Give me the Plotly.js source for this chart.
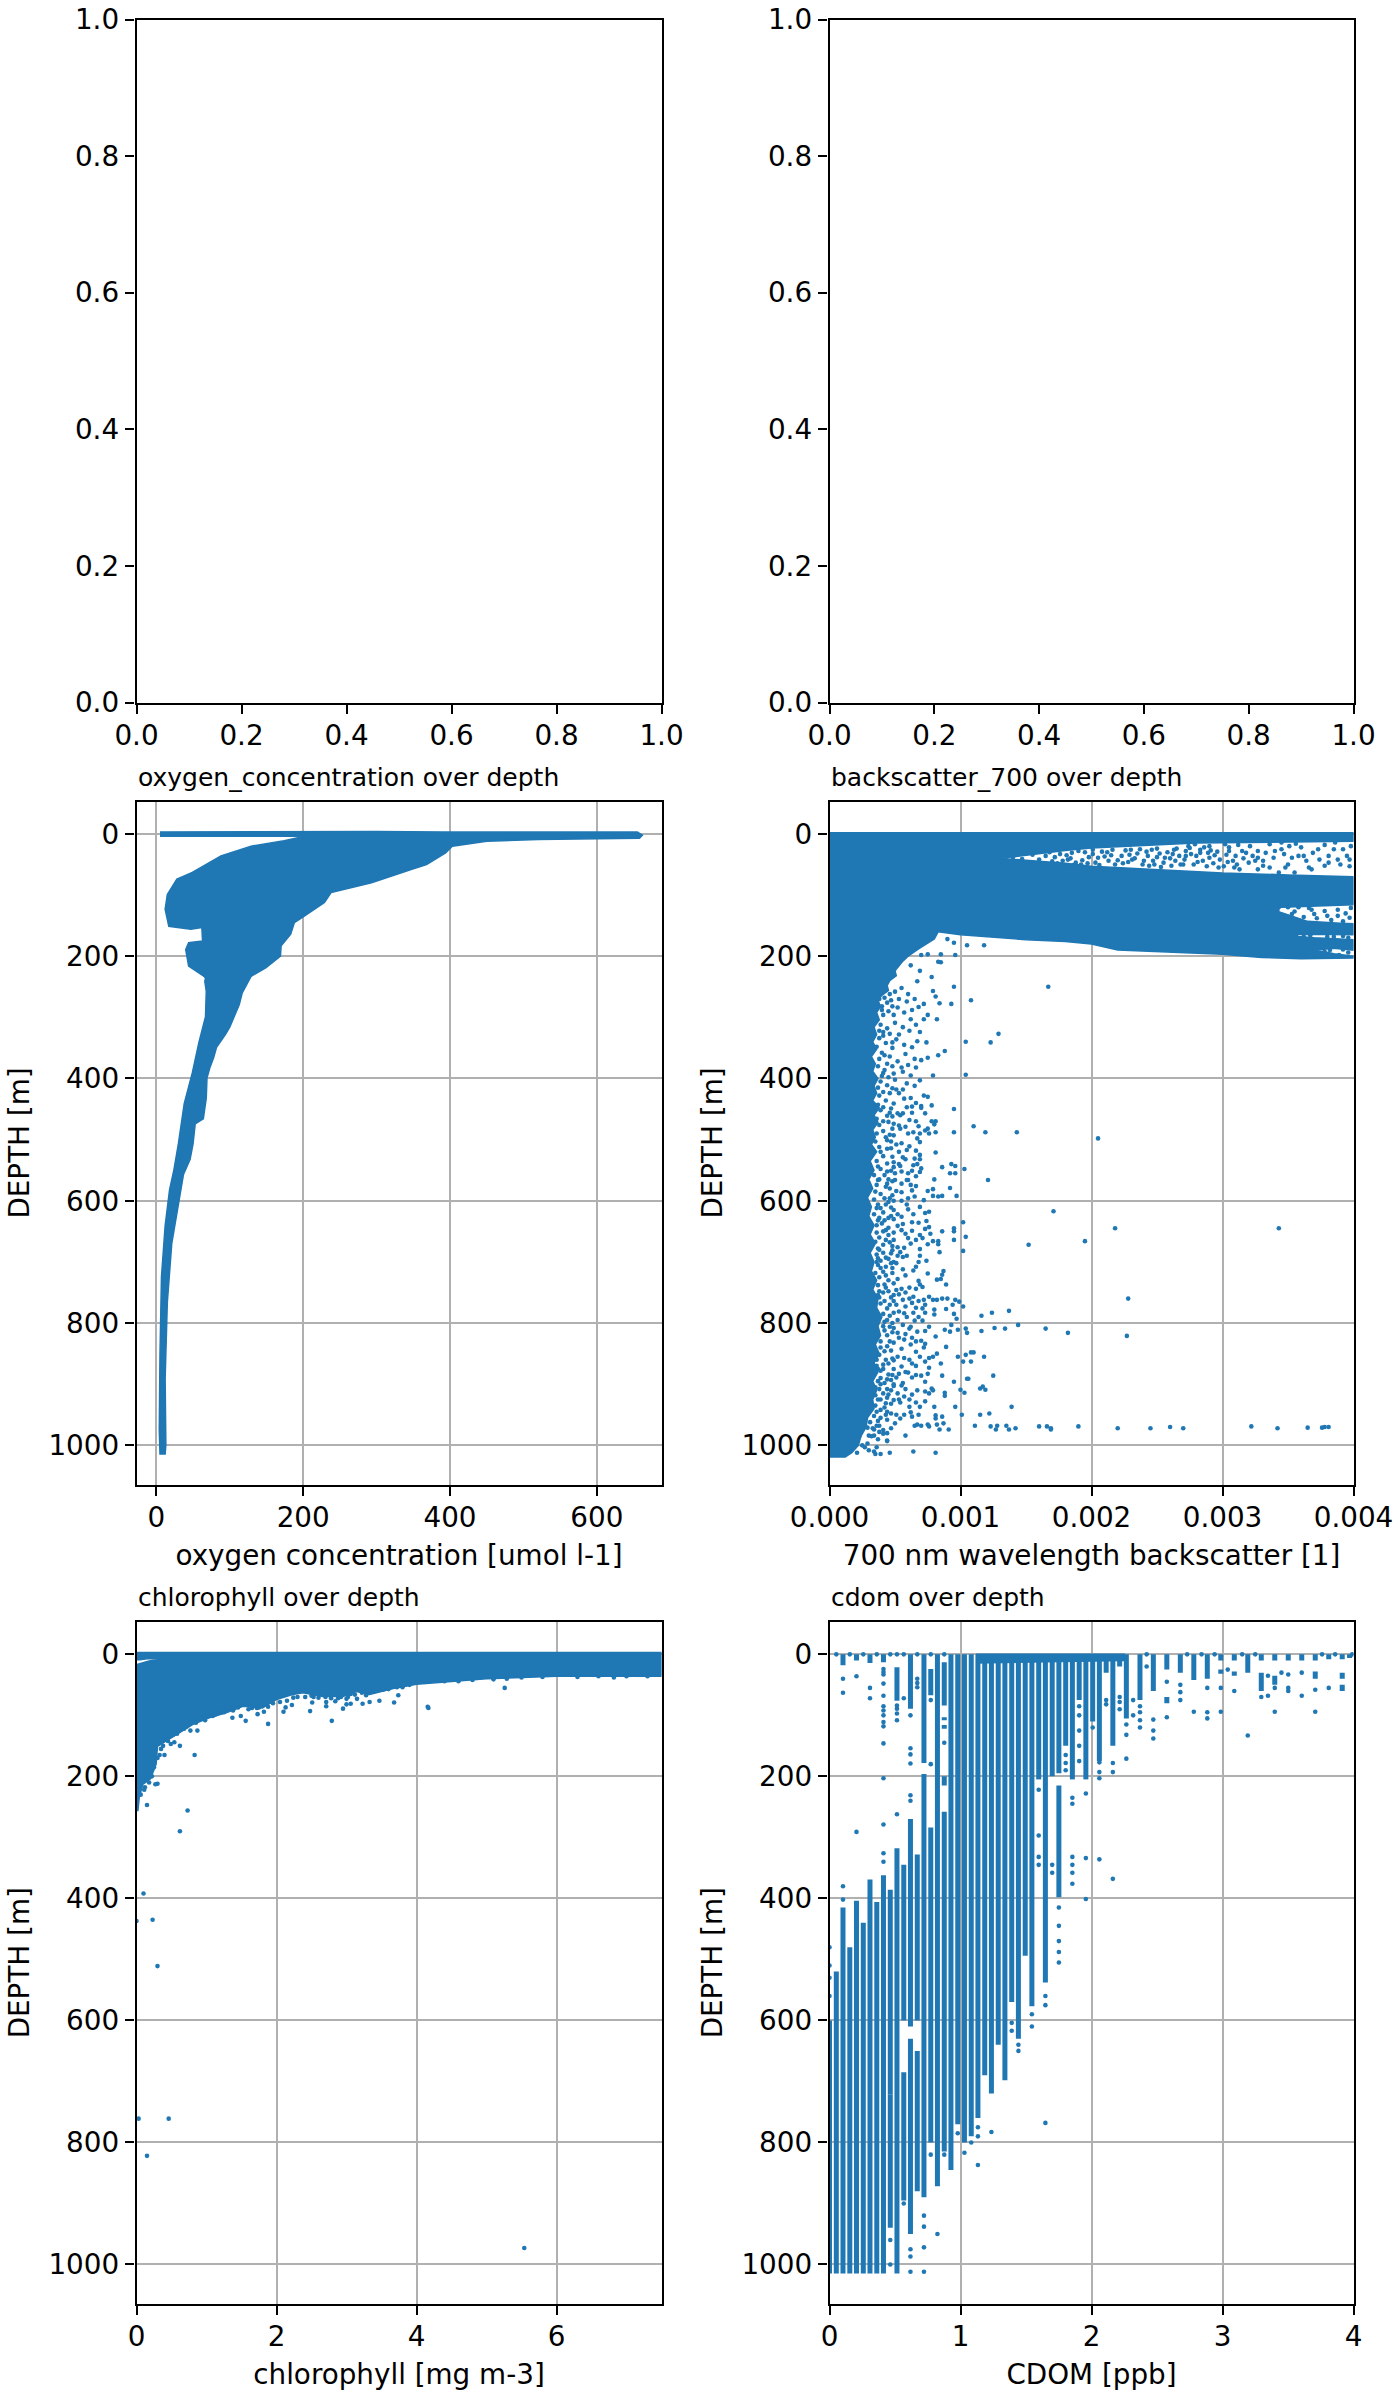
<!DOCTYPE html>
<html>
<head>
<meta charset="utf-8">
<script src="https://cdn.plot.ly/plotly-3.0.1.min.js"></script>
<style>html,body{margin:0;padding:0;background:#fff}</style>
</head>
<body>
<div id="chart" style="width:1400px;height:2400px"></div>
<script>
// Where the points merge into a solid mass only the outline can be read, so
// those parts are outlines (x, depth); anything that can be told apart is a dot.
const BLUE = '#1f77b4';

const unitTicks = [0, 0.2, 0.4, 0.6, 0.8, 1];
const depthTicks = [0, 200, 400, 600, 800, 1000];
const depthRange = [1064, -53];

const panelTitles = ['oxygen_concentration over depth', 'backscatter_700 over depth', 'chlorophyll over depth', 'cdom over depth'];
const xTitles = ['oxygen concentration [umol l-1]', '700 nm wavelength backscatter [1]', 'chlorophyll [mg m-3]', 'CDOM [ppb]'];

// oxygen: outline of the whole mass, clockwise from the surface strip
const oxygenOutline = [
  [5, -3], [300, -4], [390, -3], [655, -3], [662, 2], [658, 7], [600, 8], [520, 9], [450, 12], [403, 20],
  [394, 31], [368, 50], [348, 58], [293, 80], [238, 96], [229, 112], [202, 134], [188, 145], [183, 164],
  [170, 183], [169, 200], [149, 219], [129, 233], [117, 260], [113, 279], [100, 316], [94, 328], [82, 349],
  [78, 366], [73, 382], [69, 399], [68, 432], [64, 466], [53, 474], [50, 507], [46, 532], [37, 557], [32, 591],
  [27, 624], [21, 670], [15, 766], [12, 891], [13, 999], [12, 1014], [5, 1014],
  [4, 974], [5, 849], [7, 724], [12, 641], [18, 582], [24, 549], [30, 507], [38, 441], [49, 391], [58, 341],
  [67, 299], [68, 257], [66, 241],
  [67, 236], [65, 233], [44, 216], [40, 189], [44, 178], [63, 175], [62, 153], [47, 156], [17, 151], [12, 123],
  [15, 99], [28, 74], [49, 63], [88, 36], [129, 20], [174, 11], [202, 4], [5, 4]
];

// backscatter: solid mass, notches follow the white patches on the right
const backscatterOutline = [
  [0, -2], [0.004, -2], [0.004, 12], [0.0035, 13], [0.003, 14], [0.0028, 15], [0.0026, 17], [0.0024, 19],
  [0.0022, 21], [0.002, 23], [0.0018, 27], [0.0016, 32], [0.00145, 36], [0.0013, 40], [0.0015, 43],
  [0.0018, 48], [0.002, 53], [0.0023, 56], [0.0026, 60], [0.003, 64], [0.0035, 67], [0.004, 70],
  [0.004, 116], [0.0037, 118], [0.00345, 120], [0.0034, 125], [0.0035, 132], [0.00365, 143], [0.0039, 146],
  [0.004, 147], [0.004, 165], [0.0038, 165], [0.0036, 164], [0.00352, 167], [0.0037, 170], [0.0039, 172],
  [0.004, 173], [0.004, 190], [0.00385, 187], [0.00372, 190], [0.00385, 196], [0.004, 200], [0.004, 203],
  [0.0036, 204], [0.0033, 202], [0.003, 197], [0.0028, 195], [0.0025, 193], [0.0022, 190], [0.002, 180],
  [0.0018, 176], [0.0015, 173], [0.0012, 168], [0.001, 165], [0.00083, 160], [0.0008, 172], [0.00068, 188],
  [0.0006, 200], [0.00056, 208], [0.00053, 216], [0.0005, 224], [0.00051, 232], [0.00046, 240], [0.00044, 248],
  [0.00045, 256], [0.0004, 264], [0.00037, 272], [0.00039, 282], [0.00036, 292], [0.00038, 304], [0.00034, 316],
  [0.00036, 328], [0.00033, 340], [0.00036, 352], [0.00032, 364], [0.00035, 376], [0.00033, 388], [0.00037, 400],
  [0.00034, 412], [0.00036, 424], [0.00033, 436], [0.00038, 448], [0.00034, 460], [0.00037, 472], [0.00033, 484],
  [0.00035, 496], [0.00032, 508], [0.00036, 520], [0.00031, 535], [0.00034, 550], [0.0003, 565], [0.00033, 580],
  [0.00029, 595], [0.00032, 610], [0.0003, 625], [0.00034, 640], [0.00031, 655], [0.00035, 670], [0.00031, 685],
  [0.00034, 700], [0.00032, 715], [0.00036, 730], [0.00033, 745], [0.00037, 760], [0.00036, 775], [0.0004, 790],
  [0.00037, 805], [0.00039, 820], [0.00035, 835], [0.00038, 850], [0.00034, 865], [0.00037, 880], [0.00033, 895],
  [0.00036, 910], [0.00033, 925], [0.00034, 940], [0.00029, 955], [0.00028, 970], [0.00024, 985], [0.00022, 1000],
  [0.00017, 1012], [0.00012, 1019], [0, 1019]
];

const backscatterDots = [
  [0.00095, 178], [0.00105, 182], [0.00118, 182], [0.0009, 172], [0.00075, 197], [0.00085, 197], [0.00096, 198],
  [0.0007, 198], [0.00083, 209], [0.00085, 210], [0.00069, 224], [0.00078, 234], [0.00067, 241], [0.00062, 215],
  [0.00167, 250], [0.00095, 250], [0.00079, 257], [0.00081, 266], [0.00108, 272], [0.00093, 278], [0.00084, 277],
  [0.00072, 278], [0.00065, 270], [0.00059, 274], [0.00053, 270], [0.00048, 282], [0.0004, 282], [0.00036, 281],
  [0.00072, 303], [0.00082, 303], [0.00062, 303], [0.00069, 324], [0.00053, 328], [0.00048, 341], [0.00041, 324],
  [0.00074, 341], [0.00063, 349], [0.00129, 327], [0.00123, 341], [0.00104, 340], [0.00088, 355], [0.00083, 362],
  [0.00075, 366], [0.0007, 370], [0.0006, 378], [0.00055, 382], [0.00104, 394], [0.00079, 395], [0.00069, 403],
  [0.00062, 395], [0.00041, 391], [0.00048, 416], [0.00053, 424], [0.00072, 428], [0.00075, 430], [0.00062, 432],
  [0.0007, 445], [0.00052, 457], [0.00081, 470], [0.00075, 482], [0.00048, 482],
  [0.00078, 444], [0.00095, 450], [0.0011, 478], [0.00095, 488], [0.00119, 488], [0.00143, 488], [0.00205, 498],
  [0.00081, 488], [0.00081, 521], [0.00086, 545], [0.00093, 540], [0.00096, 543], [0.00103, 548], [0.00092, 555],
  [0.00096, 555], [0.00121, 566], [0.0008, 565], [0.00092, 579], [0.00079, 581], [0.00075, 584], [0.00097, 592],
  [0.00086, 592], [0.00083, 593], [0.00079, 592], [0.00171, 617], [0.00102, 635], [0.00095, 645], [0.00095, 650],
  [0.00218, 645], [0.00086, 650], [0.00104, 659], [0.00095, 664], [0.00083, 666], [0.00083, 671], [0.00195, 666],
  [0.00152, 672], [0.00102, 682], [0.00084, 684], [0.00087, 715], [0.0007, 448], [0.00073, 457], [0.00078, 470],
  [0.0008, 475], [0.00073, 485], [0.00076, 490], [0.00069, 490], [0.00069, 504], [0.00064, 488], [0.0006, 490],
  [0.00066, 470], [0.00061, 468], [0.00068, 478], [0.00056, 457], [0.00063, 446], [0.00054, 460], [0.00049, 474],
  [0.00053, 477], [0.00045, 471], [0.00049, 493], [0.00044, 501], [0.00055, 506], [0.00059, 517], [0.00066, 518],
  [0.00053, 520], [0.00069, 525], [0.00069, 532], [0.00065, 531], [0.00058, 532], [0.00067, 540], [0.00064, 542],
  [0.00053, 540], [0.00049, 545], [0.00044, 552], [0.0007, 547], [0.00069, 553], [0.0006, 555], [0.00055, 552],
  [0.0005, 555], [0.0006, 566], [0.00045, 565], [0.00055, 572], [0.0005, 566], [0.00066, 576], [0.00063, 583],
  [0.00059, 566], [0.00051, 584], [0.00043, 577], [0.00037, 566], [0.00065, 593], [0.0006, 596], [0.00055, 600],
  [0.00049, 600], [0.00045, 602], [0.00072, 599], [0.00069, 610], [0.00076, 618], [0.00073, 620], [0.0006, 614],
  [0.00049, 615], [0.00055, 626], [0.00045, 628], [0.00036, 612], [0.00074, 633], [0.00068, 636], [0.00063, 635],
  [0.00056, 638], [0.00049, 630], [0.00037, 632], [0.00076, 643], [0.00073, 646], [0.00055, 648], [0.00049, 652],
  [0.00043, 648], [0.00071, 661], [0.00077, 654], [0.00069, 656], [0.00066, 664], [0.0006, 661], [0.00049, 664],
  [0.00079, 666], [0.00075, 671], [0.00069, 679], [0.00057, 677], [0.00048, 681], [0.00037, 678], [0.00069, 690],
  [0.00056, 692], [0.00052, 690], [0.00074, 698], [0.00068, 700], [0.00051, 702], [0.00037, 694], [0.00066, 708],
  [0.00056, 712], [0.00048, 710], [0.00039, 710],
  [0.00089, 737], [0.00086, 721], [0.00085, 728], [0.00082, 729], [0.00075, 719], [0.00068, 731], [0.00071, 741],
  [0.00069, 737], [0.00061, 742], [0.00055, 744], [0.00042, 737], [0.00037, 754], [0.00053, 753], [0.0009, 760],
  [0.00086, 760], [0.00082, 762], [0.00079, 762], [0.00076, 757], [0.00072, 762], [0.00064, 757], [0.00061, 760],
  [0.00056, 762], [0.00096, 762], [0.00099, 765], [0.00102, 773], [0.00094, 770], [0.00089, 777], [0.0008, 778],
  [0.00073, 770], [0.00068, 764], [0.00063, 767], [0.00051, 770], [0.00137, 780], [0.00124, 783], [0.00116, 788],
  [0.00095, 785], [0.00097, 793], [0.0008, 786], [0.00073, 783], [0.00064, 783], [0.00059, 790], [0.00049, 783],
  [0.00144, 803], [0.00093, 803], [0.00071, 796], [0.00065, 796], [0.00056, 803], [0.00165, 809], [0.00182, 816],
  [0.00134, 809], [0.00126, 808], [0.00116, 813], [0.00104, 809], [0.00105, 816], [0.00098, 811], [0.00092, 814],
  [0.00088, 811], [0.00076, 806], [0.00073, 813], [0.00067, 814], [0.00061, 809], [0.00049, 808], [0.00081, 822],
  [0.0007, 829], [0.00073, 834], [0.00089, 839], [0.00063, 824], [0.00057, 827], [0.00053, 824], [0.00062, 835],
  [0.0011, 848], [0.00108, 848], [0.00104, 852], [0.00098, 855], [0.00118, 855], [0.00108, 863], [0.00102, 863],
  [0.00082, 850], [0.00079, 855], [0.00076, 857], [0.00073, 863], [0.00085, 866], [0.00076, 873], [0.00066, 847],
  [0.00066, 870], [0.00063, 866], [0.00057, 857], [0.00049, 861], [0.00055, 871], [0.00041, 875], [0.00037, 875],
  [0.00125, 886], [0.00086, 886], [0.00105, 891], [0.00106, 891], [0.00095, 896], [0.00075, 883], [0.00073, 896],
  [0.0007, 886], [0.0006, 881], [0.00063, 889], [0.00053, 883], [0.00051, 889], [0.00115, 907], [0.00117, 904],
  [0.00119, 909], [0.001, 909], [0.00103, 914], [0.00088, 914], [0.00088, 919], [0.00078, 907], [0.00079, 910],
  [0.00076, 915], [0.00073, 912], [0.00067, 910], [0.00063, 917], [0.00057, 920], [0.00055, 902], [0.00049, 903],
  [0.00053, 925], [0.00045, 917], [0.00043, 931], [0.00139, 937], [0.00096, 937], [0.0008, 937], [0.00069, 937],
  [0.00061, 937], [0.00062, 946], [0.00122, 948], [0.00115, 950], [0.00101, 950], [0.00086, 953], [0.00081, 951],
  [0.00081, 956], [0.00057, 950], [0.00051, 950], [0.00043, 950], [0.0005, 964], [0.00038, 968], [0.00029, 971],
  [0.00111, 968], [0.00123, 969], [0.00128, 968], [0.00127, 974], [0.00135, 968], [0.00137, 974], [0.00142, 972],
  [0.0016, 969], [0.00166, 969], [0.00169, 972], [0.00169, 974], [0.0019, 969], [0.0022, 972], [0.00091, 974],
  [0.00087, 964], [0.00082, 966], [0.00084, 974], [0.00075, 966], [0.00076, 969], [0.0007, 968], [0.00067, 966],
  [0.00065, 968], [0.00058, 984], [0.00044, 992], [0.00041, 981], [0.00034, 984], [0.0003, 984], [0.00034, 974],
  [0.00023, 984], [0.00081, 1012], [0.00064, 1010], [0.00046, 1012], [0.00039, 1014], [0.00035, 1014],
  [0.00036, 1003], [0.00029, 997], [0.00027, 1003], [0.00021, 1012], [0.00044, 993],
  [0.00322, 969], [0.00342, 972], [0.00365, 971], [0.00376, 971], [0.00381, 970], [0.00378, 970], [0.0027, 972],
  [0.0026, 970], [0.00245, 972], [0.00227, 821], [0.00228, 760], [0.00343, 645],
  // speckle in the thinning zone right of the solid part
  [0.00046, 262], [0.0005, 258], [0.00055, 252], [0.0006, 262], [0.00044, 276], [0.00052, 284], [0.00057, 292],
  [0.00041, 296], [0.00063, 288], [0.00068, 283], [0.00075, 296], [0.00039, 312], [0.00044, 318], [0.0005, 309],
  [0.00056, 316], [0.00061, 322], [0.00066, 312], [0.00038, 334], [0.00043, 342], [0.00051, 336], [0.00057, 345],
  [0.00067, 339], [0.0004, 358], [0.00046, 364], [0.00052, 372], [0.00058, 360], [0.00065, 368], [0.00037, 380],
  [0.00042, 386], [0.00049, 392], [0.00056, 389], [0.00066, 382], [0.00039, 405], [0.00044, 411], [0.0005, 402],
  [0.00056, 418], [0.00065, 412], [0.00059, 408], [0.00038, 428], [0.00043, 436], [0.00049, 441], [0.00057, 433],
  [0.00066, 440], [0.00039, 452], [0.00044, 461], [0.00047, 449], [0.00059, 447], [0.00063, 456], [0.00038, 476],
  [0.00041, 486], [0.00046, 492], [0.00054, 482], [0.00058, 479], [0.00067, 498], [0.00038, 512], [0.00041, 527],
  [0.00047, 514], [0.00051, 508], [0.00056, 529], [0.00061, 511], [0.00037, 544], [0.00042, 558], [0.00047, 551],
  [0.00054, 543], [0.00063, 551], [0.00066, 560], [0.00036, 574], [0.00039, 589], [0.00046, 580], [0.00048, 591],
  [0.00055, 586], [0.00062, 574], [0.00037, 606], [0.00041, 619], [0.00047, 611], [0.00052, 622], [0.00059, 606],
  [0.00064, 622], [0.00036, 640], [0.0004, 637], [0.00045, 644], [0.00052, 641], [0.00058, 654], [0.00063, 649],
  [0.00038, 660], [0.00041, 672], [0.00046, 668], [0.00052, 676], [0.00062, 670], [0.00036, 688], [0.00043, 693],
  [0.00047, 686], [0.00054, 684], [0.00059, 690], [0.00037, 705], [0.00041, 716], [0.00045, 730], [0.00048, 718],
  [0.00052, 728], [0.00058, 722], [0.00064, 714], [0.00038, 748], [0.00043, 742], [0.00047, 758], [0.00051, 746],
  [0.00058, 750], [0.00066, 744], [0.00039, 768], [0.00044, 776], [0.00049, 764], [0.00053, 781], [0.00058, 773],
  [0.00066, 775], [0.00071, 776], [0.00042, 798], [0.00046, 788], [0.00052, 795], [0.00057, 784], [0.00068, 790],
  [0.00042, 812], [0.00046, 806], [0.00052, 816], [0.00058, 818], [0.00062, 806], [0.00039, 830], [0.00044, 838],
  [0.00049, 832], [0.00055, 842], [0.00066, 830], [0.00072, 840], [0.00038, 852], [0.00043, 860], [0.00047, 845],
  [0.00052, 855], [0.00061, 860], [0.00069, 855], [0.00039, 878], [0.00045, 884], [0.00049, 875], [0.00058, 880],
  [0.00066, 885], [0.00037, 895], [0.00042, 898], [0.00047, 893], [0.00056, 898], [0.00038, 908], [0.00041, 915],
  [0.00047, 910], [0.00052, 915], [0.00058, 908], [0.00037, 925], [0.00042, 938], [0.00047, 932], [0.00054, 930],
  [0.00061, 925], [0.00066, 930], [0.00073, 928], [0.00036, 945], [0.00039, 955], [0.00047, 948], [0.00054, 956],
  [0.00063, 953], [0.00068, 950], [0.00031, 962], [0.00036, 968], [0.00041, 975], [0.00047, 972], [0.00032, 985],
  [0.00037, 990], [0.00025, 1000], [0.0003, 1008], [0.00034, 1010],
  [0.00038, 270], [0.00042, 268], [0.00047, 272], [0.0004, 288], [0.00045, 290], [0.00049, 296], [0.00038, 322],
  [0.00041, 330], [0.00046, 327], [0.00048, 350], [0.00036, 348], [0.00042, 362], [0.00038, 368], [0.00044, 376],
  [0.00048, 380], [0.0004, 396], [0.00045, 398], [0.00037, 415], [0.00041, 422], [0.00046, 424], [0.00051, 418],
  [0.00037, 443], [0.00041, 447], [0.00046, 456], [0.00036, 466], [0.00041, 470], [0.00048, 462], [0.00036, 490],
  [0.00043, 496], [0.00047, 503], [0.00035, 503], [0.00039, 520], [0.00044, 515], [0.00048, 528], [0.00036, 535],
  [0.00039, 548], [0.00044, 539], [0.00049, 537], [0.00034, 558], [0.00038, 565], [0.00044, 572], [0.00048, 568],
  [0.00035, 585], [0.00042, 596], [0.00046, 596], [0.00034, 598], [0.00039, 612], [0.00043, 606], [0.00034, 622],
  [0.00038, 628], [0.00042, 632], [0.00047, 625], [0.00036, 652], [0.00041, 650], [0.00045, 656], [0.00035, 667],
  [0.00043, 664], [0.00048, 674], [0.00038, 680], [0.00041, 685], [0.00045, 695], [0.00049, 700], [0.00036, 700],
  [0.00039, 698], [0.00043, 708], [0.00047, 702], [0.00035, 718], [0.00038, 725], [0.00043, 722], [0.00049, 735],
  [0.00037, 738], [0.00041, 750], [0.00045, 748], [0.00049, 754], [0.00038, 758], [0.00042, 764], [0.00046, 770],
  [0.00041, 785], [0.00044, 795], [0.00048, 800], [0.00041, 805], [0.00044, 820], [0.00048, 815], [0.00039, 840],
  [0.00042, 846], [0.00046, 830], [0.00036, 860], [0.00041, 868], [0.00045, 866], [0.00048, 858], [0.00036, 870],
  [0.00039, 890], [0.00044, 892], [0.00048, 885], [0.00035, 905], [0.00039, 900], [0.00044, 908], [0.00049, 900],
  [0.00035, 918], [0.00039, 925], [0.00044, 922], [0.00049, 926], [0.00035, 935], [0.00039, 942], [0.00044, 945],
  [0.00034, 952], [0.00037, 960], [0.00044, 958], [0.00033, 972], [0.00038, 978], [0.00044, 980],
  // gap between the surface strip and the band below it
  [0.00274, 20], [0.00279, 17], [0.0029, 20], [0.00289, 31], [0.0029, 39], [0.0028, 36], [0.00271, 42],
  [0.00278, 50], [0.00288, 53], [0.00297, 55], [0.00301, 53], [0.00308, 44], [0.00309, 55], [0.00315, 28],
  [0.00321, 20], [0.00318, 31], [0.00327, 28], [0.00327, 39], [0.00331, 44], [0.00325, 44], [0.00313, 58],
  [0.00327, 58], [0.00336, 55], [0.00339, 39], [0.0034, 28], [0.00336, 17], [0.00345, 25], [0.00351, 20],
  [0.00353, 39], [0.0035, 50], [0.00358, 36], [0.00364, 44], [0.00362, 36], [0.00369, 31], [0.00374, 42],
  [0.00373, 25], [0.00381, 36], [0.00386, 14], [0.00392, 25], [0.00395, 36], [0.00381, 47], [0.0039, 50],
  [0.00397, 53], [0.00368, 58], [0.00355, 63], [0.00343, 63], [0.00264, 44], [0.00248, 50], [0.00256, 39],
  [0.00239, 50], [0.00231, 42], [0.00223, 36], [0.00213, 44], [0.00205, 39], [0.00192, 50], [0.00182, 42],
  [0.0014, 38], [0.00147, 41], [0.00155, 34], [0.0016, 42], [0.00165, 36], [0.0017, 45], [0.00176, 33],
  [0.00178, 44], [0.00185, 31], [0.00188, 47], [0.00195, 30], [0.00198, 38], [0.00203, 47], [0.00208, 29],
  [0.00215, 35], [0.00218, 50], [0.00226, 27], [0.00228, 46], [0.00235, 32], [0.00243, 36], [0.00242, 29],
  [0.00247, 44], [0.0025, 24], [0.00253, 54], [0.00258, 30], [0.00261, 52], [0.00263, 26], [0.00267, 36],
  [0.00268, 50], [0.00272, 28], [0.00276, 33], [0.00283, 26], [0.00285, 44], [0.00293, 48], [0.00296, 29],
  [0.00303, 34], [0.00305, 22], [0.0031, 36], [0.0032, 47], [0.00333, 31], [0.00347, 33], [0.00348, 55],
  [0.0036, 22], [0.00366, 55], [0.00378, 18], [0.00378, 52], [0.00385, 25], [0.00388, 42], [0.00398, 20],
  [0.00397, 42], [0.00302, 17], [0.00312, 18], [0.00345, 14], [0.00356, 16],
  [0.00168, 30], [0.00172, 38], [0.00174, 48], [0.00181, 35], [0.00184, 40], [0.00186, 51], [0.0019, 28],
  [0.00193, 43], [0.00197, 48], [0.00201, 33], [0.00201, 26], [0.00206, 51], [0.0021, 37], [0.00212, 30],
  [0.00216, 26], [0.0022, 43], [0.00224, 48], [0.00229, 34], [0.0023, 26], [0.00233, 40], [0.00237, 25],
  [0.0024, 44], [0.00244, 52], [0.00246, 26], [0.0025, 38], [0.00252, 32], [0.00255, 47], [0.0026, 40],
  [0.00262, 33], [0.00265, 24], [0.0027, 50], [0.00272, 36], [0.00275, 23], [0.00281, 46], [0.00283, 31],
  [0.00286, 22], [0.00291, 27], [0.00294, 35], [0.00298, 42], [0.00304, 46], [0.00305, 28], [0.00311, 50],
  [0.00316, 40], [0.00323, 36], [0.00331, 52],
  // inside the notches of the band
  [0.00342, 124], [0.0035, 120], [0.00355, 127], [0.00358, 120], [0.00362, 136], [0.00368, 124], [0.0037, 131],
  [0.00372, 138], [0.00378, 126], [0.0038, 134], [0.00383, 141], [0.00388, 124], [0.00388, 134], [0.00392, 143],
  [0.00394, 130], [0.00397, 137], [0.00398, 121], [0.00366, 121], [0.00353, 131], [0.00356, 166], [0.00362, 168],
  [0.00367, 166], [0.0038, 168], [0.00385, 168], [0.00392, 167], [0.00396, 170], [0.00378, 193], [0.00382, 190],
  [0.00392, 189], [0.00396, 194], [0.00389, 198]
];

// chlorophyll: the notch top left is the white wedge just under the surface
const chlorophyllOutline = [
  [0, -3], [7.5, -3], [7.5, 36], [6, 36], [5, 40], [4.19, 47], [4, 49], [3.71, 55], [3.33, 66], [3.14, 61],
  [2.95, 69], [2.66, 69], [2.38, 63], [2.23, 66], [2, 74], [1.8, 88], [1.52, 85], [1.28, 96], [1.04, 104],
  [0.8, 115], [0.61, 129], [0.42, 143], [0.3, 151], [0.28, 180], [0.2, 204], [0.09, 213], [0.04, 234],
  [0.02, 256], [0, 256], [0, 17], [0.05, 15], [0.18, 11], [0.36, 8], [0.18, 7], [0.05, 9], [0, 9]
];
const chlorophyllDots = [
  [4.17, 88], [3.74, 67], [3.68, 79], [3.72, 54], [3.47, 76], [3.33, 78], [3.23, 81], [3.15, 73], [3.06, 81],
  [3, 82], [2.95, 89], [3.06, 65], [3, 73], [2.84, 77], [2.79, 109], [2.71, 85], [2.71, 78], [2.53, 70],
  [2.51, 79], [2.48, 93], [2.41, 70], [2.22, 83], [2.1, 94], [2.13, 87], [2.24, 71], [1.88, 114], [1.82, 94],
  [1.73, 98], [1.72, 88], [1.56, 109], [1.49, 101], [1.37, 104], [1.21, 94], [1.09, 101], [0.87, 125],
  [0.77, 125], [0.83, 165], [0.62, 150], [0.54, 144], [0.49, 147], [0.4, 165], [0.3, 212], [0.27, 213],
  [0.11, 222], [0.15, 247], [5.26, 55], [6.82, 38], [5.29, 40], [4.16, 86], [0.73, 256], [0.62, 290],
  [0.1, 392], [0.23, 435], [0, 437], [0.3, 511], [0.03, 761], [0.46, 761], [0.15, 822], [5.54, 973],
  // roughness along the lower edge of the mass
  [2.5, 68], [2.6, 71], [2.7, 70], [2.78, 72], [2.88, 72], [2.92, 70], [3.02, 70], [3.12, 66], [3.22, 63],
  [3.28, 67], [3.38, 61], [3.52, 58], [3.6, 57], [3.8, 54], [3.9, 50], [2.3, 70], [2.15, 76], [2.05, 78],
  [1.95, 80], [1.88, 86], [1.75, 87], [1.65, 88], [1.6, 90], [1.45, 87], [1.38, 92], [1.25, 95], [1.15, 97],
  [1.12, 99], [0.98, 108], [0.92, 105], [0.85, 112], [0.72, 118], [0.68, 122], [0.58, 130], [0.52, 132],
  [0.45, 142], [0.38, 150], [0.35, 155], [0.33, 165], [0.3, 170], [0.25, 185], [0.22, 200], [0.18, 210],
  [0.12, 218], [0.06, 230], [4.4, 44], [4.6, 44], [4.8, 42], [5.1, 41], [5.5, 38], [5.8, 37], [6.3, 37],
  [6.6, 36], [7, 36], [7.3, 36]
];

// cdom: readings fall on bins, so each stack is [x, top depth, bottom depth]
const cdomStacks = [
  [0, 600, 1015], [0.052, 520, 1015], [0.103, 0, 18], [0.103, 415, 1015], [0.155, 480, 1015], [0.206, 0, 10],
  [0.206, 404, 1015], [0.258, 440, 1015], [0.309, 0, 14], [0.309, 369, 1015], [0.361, 406, 1015], [0.412, 0, 13],
  [0.412, 362, 1015], [0.464, 386, 722], [0.464, 722, 940], [0.515, 21, 76], [0.515, 318, 1015], [0.567, 345, 600],
  [0.567, 685, 895], [0.618, 0, 89], [0.618, 270, 610], [0.618, 630, 950], [0.67, 328, 600], [0.67, 650, 880],
  [0.721, 0, 178], [0.721, 196, 890], [0.773, 24, 67], [0.773, 284, 800], [0.824, 0, 872], [0.876, 13, 84],
  [0.876, 103, 108], [0.876, 116, 122], [0.876, 200, 215], [0.876, 258, 815], [0.927, 0, 845], [0.979, 0, 770],
  [1.03, 0, 800], [1.082, 0, 790], [1.133, 0, 760], [1.185, 0, 690], [1.236, 0, 720], [1.288, 0, 640],
  [1.339, 0, 698], [1.391, 0, 570], [1.442, 0, 630], [1.494, 0, 494], [1.545, 0, 577], [1.597, 0, 205],
  [1.648, 0, 538], [1.7, 0, 200], [1.751, 0, 195], [1.751, 215, 398], [1.803, 0, 150], [1.854, 0, 205],
  [1.906, 0, 75], [1.957, 0, 205], [2.009, 0, 110], [2.06, 0, 175], [2.112, 0, 30], [2.163, 0, 150], [2.215, 0, 20],
  [2.266, 0, 105], [2.37, 0, 75], [2.472, 0, 60], [2.575, 0, 25], [2.575, 70, 80], [2.678, 0, 30], [2.781, 0, 42],
  [2.884, 0, 40], [2.987, 0, 10], [2.987, 25, 32], [3.09, 0, 10], [3.09, 28, 35], [3.193, 0, 30], [3.296, 0, 10],
  [3.296, 30, 60], [3.399, 0, 10], [3.399, 35, 50], [3.502, 0, 10], [3.605, 0, 10], [3.708, 0, 10], [3.708, 28, 40],
  [3.811, 0, 8], [3.914, 0, 8], [3.914, 30, 40], [3.914, 50, 60], [3.97, 0, 6]
];
const cdomSurfaceBand = [[1.12, 0], [2.25, 0], [2.25, 10], [1.12, 14]];
const cdomDots = [
  [0, 480], [0, 510], [0, 530], [0, 560], [0.052, 0], [0.103, 40], [0.103, 63], [0.103, 380], [0.103, 402],
  [0.155, 0], [0.206, 36], [0.206, 291], [0.258, 0], [0.309, 55], [0.309, 72], [0.361, 0],
  [0.412, 24], [0.412, 29], [0.412, 33], [0.412, 48], [0.412, 68], [0.412, 85], [0.412, 92], [0.412, 100],
  [0.412, 111], [0.412, 118], [0.412, 146], [0.412, 203], [0.412, 279], [0.412, 326], [0.412, 340], [0.464, 0],
  [0.464, 960], [0.464, 1000], [0.515, 0], [0.515, 84], [0.515, 89], [0.515, 97], [0.515, 108], [0.515, 262],
  [0.567, 0], [0.567, 72], [0.567, 900], [0.618, 100], [0.618, 154], [0.618, 164], [0.618, 179],
  [0.618, 231], [0.618, 240], [0.618, 975], [0.618, 987], [0.618, 1012], [0.67, 0], [0.67, 40], [0.67, 47], [0.67, 54],
  [0.721, 920], [0.721, 938], [0.721, 972], [0.721, 1012], [0.773, 0], [0.773, 75], [0.773, 180], [0.773, 820],
  [0.824, 950], [0.876, 0], [0.876, 145],
  [0.876, 820], [0.979, 785], [1.03, 817], [1.082, 800], [1.133, 775], [1.133, 790], [1.133, 837], [1.236, 783],
  [1.391, 604], [1.391, 617], [1.442, 640], [1.442, 650], [1.545, 590], [1.545, 610], [1.597, 222], [1.597, 297],
  [1.597, 332], [1.597, 345], [1.648, 560], [1.648, 575], [1.648, 768], [1.7, 345], [1.7, 358], [1.751, 415],
  [1.751, 445], [1.751, 470], [1.751, 488], [1.751, 505], [1.803, 165], [1.803, 178], [1.803, 190], [1.854, 235],
  [1.854, 245], [1.854, 332], [1.854, 345], [1.854, 358], [1.854, 376], [1.906, 85], [1.906, 100], [1.906, 125],
  [1.906, 150], [1.906, 175], [1.957, 228], [1.957, 334], [1.957, 401], [2.009, 120], [2.06, 177], [2.06, 193],
  [2.06, 203], [2.06, 336], [2.112, 75], [2.112, 82], [2.163, 178], [2.163, 193], [2.163, 368], [2.215, 70],
  [2.215, 78], [2.215, 90], [2.266, 115], [2.266, 132], [2.266, 171], [2.318, 75], [2.318, 100], [2.37, 85],
  [2.37, 95], [2.37, 108], [2.37, 120], [2.421, 0], [2.421, 20], [2.472, 107], [2.472, 125], [2.472, 138],
  [2.575, 103], [2.575, 45], [2.678, 50], [2.678, 62], [2.678, 75], [2.781, 94], [2.884, 95], [2.884, 105],
  [2.884, 55], [2.987, 55], [2.987, 94], [3.04, 25], [3.09, 60], [3.193, 133], [3.296, 70], [3.347, 35],
  [3.347, 68], [3.399, 55], [3.399, 94], [3.45, 30], [3.502, 33], [3.502, 55], [3.502, 60], [3.605, 30],
  [3.605, 68], [3.708, 58], [3.708, 94], [3.811, 55], [3.76, 0], [3.86, 0], [3.99, 0], [3.15, 0], [3.25, 0],
  [2.73, 0], [2.84, 0], [2.94, 0]
];

function firsts(pairs) { return pairs.map(p => p[0]); }
function seconds(pairs) { return pairs.map(p => p[1]); }

function massTrace(outline, xaxis, yaxis) {
    return { type: 'scatter', mode: 'lines', fill: 'toself', fillcolor: BLUE, xaxis, yaxis, hoverinfo: 'skip',
        x: firsts(outline), y: seconds(outline), line: { color: BLUE, width: 1.5 } };
}

function dotTrace(dots, xaxis, yaxis) {
    return { type: 'scatter', mode: 'markers', xaxis, yaxis, x: firsts(dots), y: seconds(dots),
        marker: { color: BLUE, size: 4.6, line: { width: 0 } } };
}

function stackTrace(stacks, xaxis, yaxis) {
    const x = [], y = [];
    stacks.forEach(([bin, top, bottom]) => {
        x.push(bin, bin, null);
        y.push(top, bottom, null);
    });
    return { type: 'scatter', mode: 'lines', xaxis, yaxis, x, y, hoverinfo: 'skip', line: { color: BLUE, width: 5 } };
}

// the two top panels hold no data, but an axis pair needs a trace to be drawn
function emptyTrace(xaxis, yaxis) {
    return { type: 'scatter', mode: 'markers', xaxis, yaxis, x: [null], y: [null], hoverinfo: 'skip' };
}

const traces = [
    emptyTrace('x', 'y'),
    emptyTrace('x2', 'y2'),
    massTrace(oxygenOutline, 'x3', 'y3'),
    massTrace(backscatterOutline, 'x4', 'y4'),
    dotTrace(backscatterDots, 'x4', 'y4'),
    massTrace(chlorophyllOutline, 'x5', 'y5'),
    dotTrace(chlorophyllDots, 'x5', 'y5'),
    stackTrace(cdomStacks, 'x6', 'y6'),
    massTrace(cdomSurfaceBand, 'x6', 'y6'),
    dotTrace(cdomDots, 'x6', 'y6'),
];

const W = 1400, H = 2400;
const columns = [[136.5, 661.5], [829.5, 1353.5]];
const rows = [[19.5, 702.5], [801.5, 1484.5], [1622, 2303.5]];
const tickFont = { family: 'DejaVu Sans', size: 27.8, color: '#000' };

function axisBase(domain) {
    return {
        domain, showline: true, mirror: true, linecolor: '#000', linewidth: 2.2, ticks: 'outside', ticklen: 9.7,
        tickwidth: 2.2, tickcolor: '#000', tickfont: tickFont, zeroline: false, showgrid: false, layer: 'above traces',
    };
}

const layout = {
    width: W, height: H, margin: { l: 0, r: 0, t: 0, b: 0, autoexpand: false }, paper_bgcolor: '#fff', plot_bgcolor: '#fff',
    showlegend: false, font: { family: 'DejaVu Sans', color: '#000' }, annotations: [],
};

const dataX = [
    { range: [-27, 688], tickvals: [0, 200, 400, 600], ticktext: ['0', '200', '400', '600'] },
    { range: [0, 0.004], tickvals: [0, 0.001, 0.002, 0.003, 0.004], ticktext: ['0.000', '0.001', '0.002', '0.003', '0.004'] },
    { range: [0, 7.5], tickvals: [0, 2, 4, 6], ticktext: ['0', '2', '4', '6'] },
    { range: [0, 4], tickvals: [0, 1, 2, 3, 4], ticktext: ['0', '1', '2', '3', '4'] },
];

for (let i = 0; i < 6; i++) {
    const c = columns[i % 2], r = rows[Math.floor(i / 2)];
    const suffix = i === 0 ? '' : String(i + 1);
    const xDomain = [c[0] / W, c[1] / W], yDomain = [1 - r[1] / H, 1 - r[0] / H];
    const xa = axisBase(xDomain), ya = axisBase(yDomain);
    xa.anchor = 'y' + suffix;
    ya.anchor = 'x' + suffix;
    xa.ticklabelstandoff = -3;
    if (i < 2) {
        const labels = unitTicks.map(v => v.toFixed(1));
        Object.assign(xa, { range: [0, 1], tickvals: unitTicks, ticktext: labels });
        Object.assign(ya, { range: [0, 1], tickvals: unitTicks, ticktext: labels });
    } else {
        Object.assign(xa, dataX[i - 2], {
            showgrid: true, gridcolor: '#b0b0b0', gridwidth: 2.2,
            title: { text: xTitles[i - 2], font: { family: 'DejaVu Sans', size: 27.8, color: '#000' }, standoff: 13 },
        });
        Object.assign(ya, {
            range: depthRange, tickvals: depthTicks, ticktext: depthTicks.map(String), showgrid: true, gridcolor: '#b0b0b0', gridwidth: 2.2,
            title: { text: 'DEPTH [m]', font: { family: 'DejaVu Sans', size: 27.8, color: '#000' }, standoff: 11 },
        });
        layout.annotations.push({
            text: panelTitles[i - 2], xref: 'x' + suffix + ' domain', yref: 'y' + suffix + ' domain', x: 0, y: 1,
            xanchor: 'left', yanchor: 'bottom', yshift: 9, showarrow: false, borderpad: 0,
            font: { family: 'DejaVu Sans', size: 25, color: '#000' },
        });
    }
    layout['xaxis' + suffix] = xa;
    layout['yaxis' + suffix] = ya;
}

Plotly.newPlot('chart', traces, layout, { displayModeBar: false, responsive: false });
</script>
</body>
</html>
